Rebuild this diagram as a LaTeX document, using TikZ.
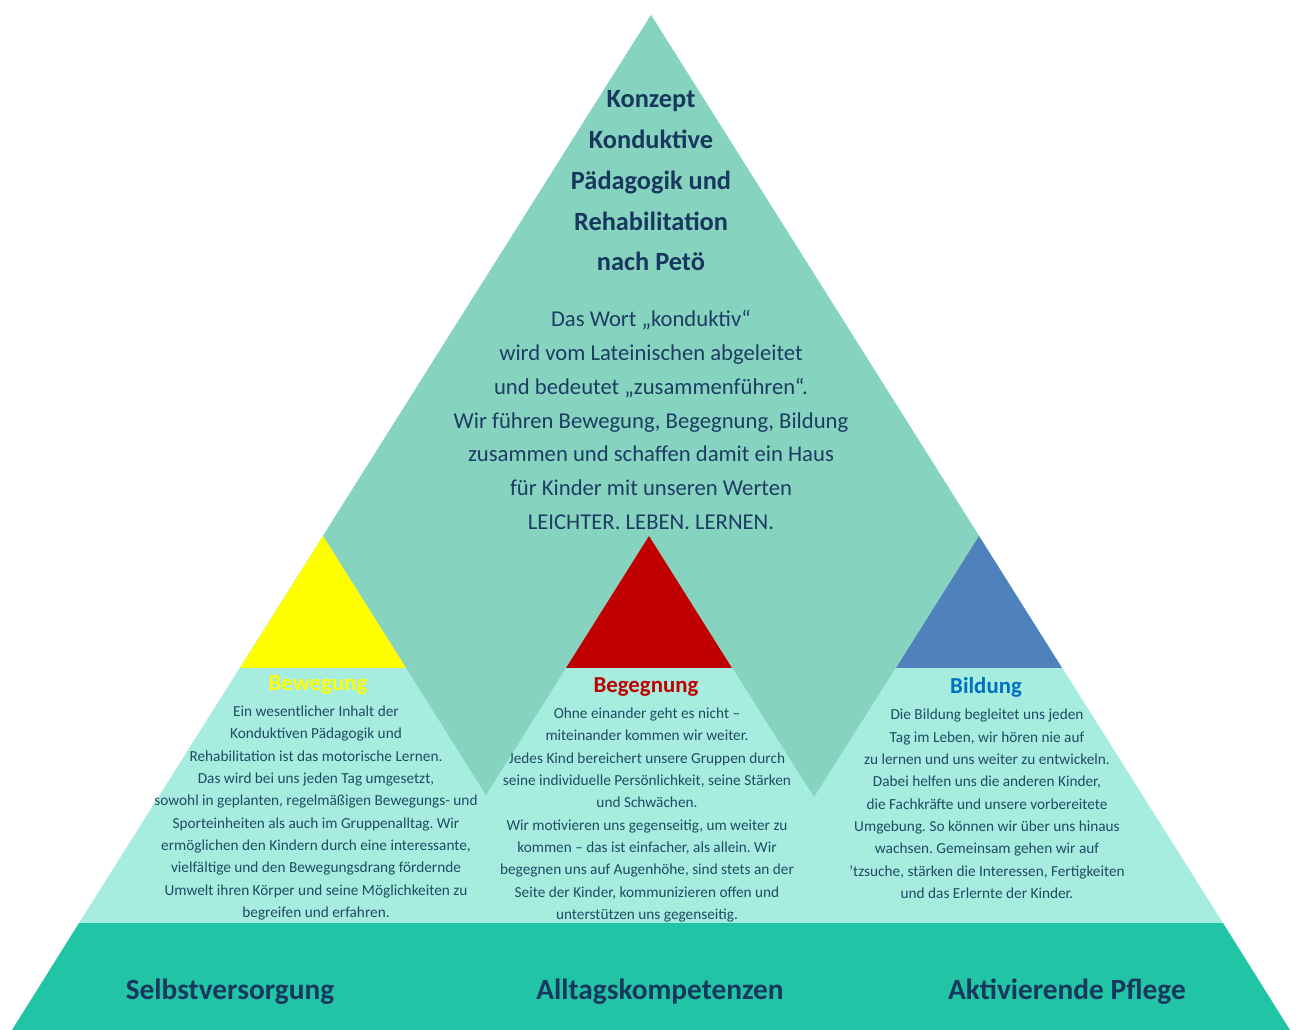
\documentclass[tikz,border=0pt]{standalone}
\usepackage{fontspec}
\setmainfont{Carlito}
\usepackage{xcolor}
\usepackage{tikz}
\usetikzlibrary{positioning}
\frenchspacing
\definecolor{tealtop}{HTML}{86D4BF}
\definecolor{cyanlight}{HTML}{A6EDE0}
\definecolor{bandgreen}{HTML}{22C4A6}
\definecolor{navytitle}{HTML}{17375E}
\definecolor{navybody}{HTML}{1D3C64}
\definecolor{subbody}{HTML}{1F4B63}
\definecolor{moveyellow}{HTML}{FFFF00}
\definecolor{meetred}{HTML}{C00000}
\definecolor{learnblue}{HTML}{4F81BD}
\definecolor{learntitle}{HTML}{0070C0}
\tikzstyle{maintitle} = [align=center, text=navytitle, font=\bfseries\fontsize{15}{23.2}\selectfont]
\tikzstyle{maintext} = [align=center, text=navybody, font=\fontsize{12.9}{19.2}\selectfont]
\tikzstyle{subhead} = [align=center, font=\bfseries\fontsize{13}{15}\selectfont]
\tikzstyle{subtext} = [align=center, text=subbody, font=\fontsize{8.7}{12.7}\selectfont]
\tikzstyle{baselabel} = [text=navytitle, font=\bfseries\fontsize{16.7}{19}\selectfont]
\begin{document}
\begin{tikzpicture}[x=0.02cm, y=-0.02cm]
    \useasboundingbox (0,0) rectangle (1296,1030);
    % Shapes
    \coordinate (apex) at (651,15);
    \coordinate (left) at (323,536);
    \coordinate (mid) at (649,536);
    \coordinate (right) at (979,536);
    \fill[cyanlight] (apex) -- (79,923) -- (1223,923) -- cycle;
    \fill[tealtop] (apex) -- (right) -- (814,797) -- (mid) -- (486,795) -- (left) -- cycle;
    \fill[moveyellow] (left) -- (240,668) -- (406,668) -- cycle;
    \fill[meetred] (mid) -- (566,668) -- (732,668) -- cycle;
    \fill[learnblue] (right) -- (896,668) -- (1062,668) -- cycle;
    \fill[bandgreen] (79,923) -- (1223,923) -- (1290,1030) -- (12,1030) -- cycle;

    % Nodes
    \node (concept) [maintitle] at (651,181) {Konzept\\Konduktive\\Pädagogik und\\Rehabilitation\\nach Petö};
    \node (meaning) [maintext] at (651,420) {Das Wort „konduktiv“\\wird vom Lateinischen abgeleitet\\und bedeutet „zusammenführen“.\\Wir führen Bewegung, Begegnung, Bildung\\zusammen und schaffen damit ein Haus\\für Kinder mit unseren Werten\\LEICHTER. LEBEN. LERNEN.};

    \node (movehead) [subhead, text=moveyellow] at (318,685) {Bewegung};
    \node (movetext) [subtext] at (316,813) {Ein wesentlicher Inhalt der\\Konduktiven Pädagogik und\\Rehabilitation ist das motorische Lernen.\\Das wird bei uns jeden Tag umgesetzt,\\sowohl in geplanten, regelmäßigen Bewegungs- und\\Sporteinheiten als auch im Gruppenalltag. Wir\\ermöglichen den Kindern durch eine interessante,\\vielfältige und den Bewegungsdrang fördernde\\Umwelt ihren Körper und seine Möglichkeiten zu\\begreifen und erfahren.};

    \node (meethead) [subhead, text=meetred] at (646,687) {Begegnung};
    \node (meettext) [subtext] at (647,815) {Ohne einander geht es nicht –\\miteinander kommen wir weiter.\\Jedes Kind bereichert unsere Gruppen durch\\seine individuelle Persönlichkeit, seine Stärken\\und Schwächen.\\Wir motivieren uns gegenseitig, um weiter zu\\kommen – das ist einfacher, als allein. Wir\\begegnen uns auf Augenhöhe, sind stets an der\\Seite der Kinder, kommunizieren offen und\\unterstützen uns gegenseitig.};

    \node (learnhead) [subhead, text=learntitle] at (986,687) {Bildung};
    \node (learntext) [subtext] at (987,804) {Die Bildung begleitet uns jeden\\Tag im Leben, wir hören nie auf\\zu lernen und uns weiter zu entwickeln.\\Dabei helfen uns die anderen Kinder,\\die Fachkräfte und unsere vorbereitete\\Umgebung. So können wir über uns hinaus\\wachsen. Gemeinsam gehen wir auf\\’tzsuche, stärken die Interessen, Fertigkeiten\\und das Erlernte der Kinder.};

    \node (selfcare) [baselabel] at (230,992) {Selbstversorgung};
    \node (everyday) [baselabel] at (660,992) {Alltagskompetenzen};
    \node (care) [baselabel] at (1067,992) {Aktivierende Pflege};
\end{tikzpicture}
\end{document}
